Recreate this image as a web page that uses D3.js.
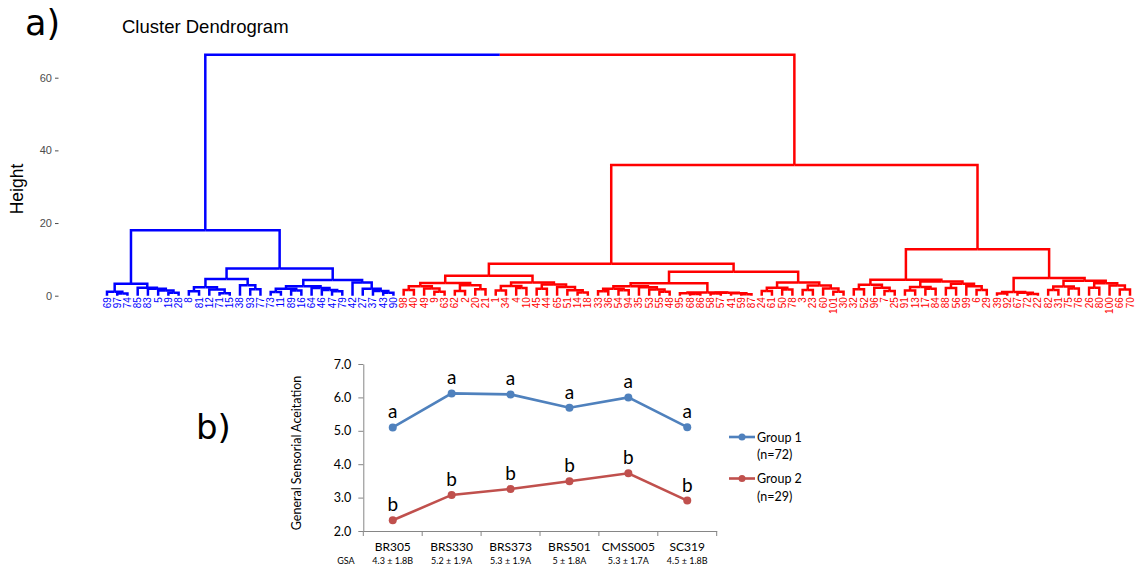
<!DOCTYPE html>
<html>
<head>
<meta charset="utf-8">
<script src="https://cdn.jsdelivr.net/npm/d3@7.9.0/dist/d3.min.js"></script>
<style>
  body { margin: 0; background: #fff; }
</style>
</head>
<body>
<svg id="chart" width="1137" height="570"></svg>
<script>
// ---------- a) dendrogram: each node is [height, left, right], leaves are sample ids
const blueTree = [18,
  [3.3, [1.1, 69, [0.6, 97, 74]], [2.2, 85, [1.9, 83, [1.4, 5, [0.8, 19, 28]]]]],
  [7.5,
    [4.6, [2.3, [1.2, 8, 81], [1.7, 12, [0.7, 71, 15]]], [2.9, 38, [1.8, 93, 77]]],
    [4.3, [2.6, [1.9, [1.0, 73, 11], [1.4, 89, 16]], [2.1, 64, [1.6, 46, [1.2, 47, 79]]]],
          [3.6, 42, [1.9, 27, [1.3, 37, [0.8, 43, 90]]]]]]];

const redTree = [36,
  [8.8,
    [5.5, [3.5, [2.6, [1.6, 98, 40], [2.0, 49, [1.1, 9, 63]]], [2.9, [1.3, 62, 2], [1.8, 20, 21]]],
          [3.6, [2.7, [1.4, 1, 34], [2.1, 4, 10]], [3.1, [1.9, 45, 44], [2.4, 65, [1.5, 51, [0.9, 14, 18]]]]]],
    [6.6,
      [3.4, [2.6, [1.9, [1.2, 33, 36], [1.5, 54, 94]], [2.3, 35, [1.7, 53, [1.1, 55, 48]]]],
            [0.9, [0.7, 95, [0.5, 68, 86]], [0.8, [0.6, 58, 57], [0.7, 41, [0.4, 59, 87]]]]],
      [3.6, [2.2, [1.3, 24, 61], [1.7, 50, 78]], [2.8, [1.6, 3, 23], [2.0, 60, [1.1, 101, 30]]]]]],
  [12.8,
    [4.4, [3.0, [1.8, 32, 52], [2.2, 96, [1.3, 7, 25]]],
          [3.9, [2.4, [1.4, 91, 13], [1.9, 17, 84]], [3.3, [2.1, 88, 56], [2.6, 99, [1.6, 6, 29]]]]],
    [4.9, [1.0, [0.6, 39, 92], [0.8, 67, [0.5, 72, 22]]],
          [4.1, [2.5, [1.6, 82, 31], [2.0, 75, 76]], [3.4, [2.2, 26, 80], [2.8, 100, [1.7, 66, 70]]]]]]];

const rootHeight = 66.3;
const clusterColors = ['#0000FF', '#FF0000'];
const heightTicks = [0, 20, 40, 60];

// ---------- b) acceptance by cultivar
const cultivars = ['BR305', 'BRS330', 'BRS373', 'BRS501', 'CMSS005', 'SC319'];
const gsaLabels = ['4.3 ± 1.8B', '5.2 ± 1.9A', '5.3 ± 1.9A', '5 ± 1.8A', '5.3 ± 1.7A', '4.5 ± 1.8B'];
const group1 = [5.10, 6.12, 6.09, 5.69, 6.00, 5.11];
const group2 = [2.32, 3.08, 3.26, 3.49, 3.73, 2.91];
const group1Letters = ['a', 'a', 'a', 'a', 'a', 'a'];
const group2Letters = ['b', 'b', 'b', 'b', 'b', 'b'];
const groupNames = ['Group 1', 'Group 2'];
const groupSizes = ['(n=72)', '(n=29)'];
const groupColors = ['#4F81BD', '#C0504D'];
const acceptTicks = [2, 3, 4, 5, 6, 7];

const svg = d3.select('#chart');
const arial = '"Liberation Sans", Arial, sans-serif';
const calib = 'Lato, "Open Sans", sans-serif';

// ================= panel a =================
const root = d3.hierarchy([rootHeight, blueTree, redTree], d => Array.isArray(d) ? d.slice(1) : null);
const leaves = root.leaves();

const xLeaf = d3.scalePoint().domain(leaves.map(d => String(d.data))).range([107, 1130]);
const yH = d3.scaleLinear().domain([0, 60]).range([295.7, 77.7]);

root.eachAfter(n => {
  n.h = n.children ? n.data[0] : 0;
  n.x = n.children ? (n.children[0].x + n.children[1].x) / 2 : xLeaf(String(n.data));
});
root.children.forEach((c, i) => c.each(n => { n.color = clusterColors[i]; }));

svg.append('text')
  .attr('x', 25).attr('y', 35)
  .style('font', '35px "DejaVu Sans", sans-serif')
  .text('a)');

svg.append('text')
  .attr('x', 122).attr('y', 33)
  .style('font', '18.5px ' + arial)
  .text('Cluster Dendrogram');

svg.append('text')
  .attr('transform', 'translate(23,189) rotate(-90)')
  .attr('text-anchor', 'middle')
  .style('font', '17.5px ' + arial)
  .text('Height');

const axA = svg.append('g')
  .attr('transform', 'translate(58.5,0)')
  .call(d3.axisLeft(yH).tickValues(heightTicks).tickSize(3.5).tickPadding(3));
axA.select('.domain').remove();
axA.selectAll('.tick line').attr('stroke', '#4d4d4d');
axA.selectAll('.tick text').attr('fill', '#4d4d4d').style('font', '11px ' + arial);

const gDend = svg.append('g');
gDend.selectAll('path')
  .data(root.descendants().filter(n => n.parent))
  .join('path')
  .attr('d', n => `M${n.parent.x},${yH(n.parent.h)}H${n.x}V${yH(n.h)}`)
  .attr('fill', 'none')
  .attr('stroke', n => n.color)
  .attr('stroke-width', 2.5)
  .attr('stroke-linejoin', 'miter');

gDend.selectAll('text')
  .data(leaves)
  .join('text')
  .attr('transform', n => `translate(${n.x},${yH(0) + 1.5}) rotate(-90)`)
  .attr('text-anchor', 'end')
  .attr('dy', '0.35em')
  .attr('fill', n => n.color)
  .style('font', '10px ' + arial)
  .text(n => n.data);

// ================= panel b =================
svg.append('text')
  .attr('x', 196).attr('y', 439)
  .style('font', '34px "DejaVu Sans", sans-serif')
  .text('b)');

const xB = d3.scaleBand().domain(cultivars).range([363.3, 716.7]);
const yB = d3.scaleLinear().domain([2, 7]).range([531, 364]);
const axisColor = '#868686';

const axY = svg.append('g')
  .attr('transform', 'translate(363.3,0)')
  .call(d3.axisLeft(yB).tickValues(acceptTicks).tickFormat(d3.format('.1f')).tickSize(5).tickSizeOuter(0).tickPadding(7));
axY.select('.domain').attr('stroke', axisColor);
axY.selectAll('.tick line').attr('stroke', axisColor);
axY.selectAll('.tick text').attr('fill', '#000').style('font', '12.5px ' + calib);

const axX = svg.append('g')
  .attr('transform', 'translate(0,531)')
  .call(d3.axisBottom(xB).tickSize(0).tickSizeOuter(0).tickPadding(11));
axX.select('.domain').attr('stroke', axisColor);
axX.selectAll('.tick text').attr('fill', '#000').style('font', '12px ' + calib);

// tick marks at category boundaries
svg.append('g').selectAll('line')
  .data(cultivars.map(c => xB(c) + xB.bandwidth()).concat([xB.range()[0]]))
  .join('line')
  .attr('x1', d => d).attr('x2', d => d)
  .attr('y1', 531).attr('y2', 536)
  .attr('stroke', axisColor);

svg.append('g').selectAll('text')
  .data(cultivars)
  .join('text')
  .attr('x', c => xB(c) + xB.bandwidth() / 2)
  .attr('y', 564)
  .attr('text-anchor', 'middle')
  .style('font', '9px ' + calib)
  .text((c, i) => gsaLabels[i]);

svg.append('text')
  .attr('x', 346).attr('y', 564)
  .attr('text-anchor', 'middle')
  .style('font', '9px ' + calib)
  .text('GSA');

svg.append('text')
  .attr('transform', 'translate(301,453) rotate(-90)')
  .attr('text-anchor', 'middle')
  .style('font', '12.5px ' + calib)
  .text('General Sensorial Aceitation');

const line = d3.line()
  .x((d, i) => xB(cultivars[i]) + xB.bandwidth() / 2)
  .y(d => yB(d));

[[group1, group1Letters], [group2, group2Letters]].forEach(([vals, letters], gi) => {
  const g = svg.append('g');
  g.append('path')
    .datum(vals)
    .attr('d', line)
    .attr('fill', 'none')
    .attr('stroke', groupColors[gi])
    .attr('stroke-width', 2.6);
  g.selectAll('circle')
    .data(vals)
    .join('circle')
    .attr('cx', (d, i) => xB(cultivars[i]) + xB.bandwidth() / 2)
    .attr('cy', d => yB(d))
    .attr('r', 4)
    .attr('fill', groupColors[gi]);
  g.selectAll('text')
    .data(vals)
    .join('text')
    .attr('x', (d, i) => xB(cultivars[i]) + xB.bandwidth() / 2)
    .attr('y', d => yB(d) - 9)
    .attr('text-anchor', 'middle')
    .style('font', '19px ' + calib)
    .text((d, i) => letters[i]);
});

// legend
const legend = svg.append('g').attr('transform', 'translate(729,437)');
groupNames.forEach((name, i) => {
  const row = legend.append('g').attr('transform', `translate(0,${i * 41.5})`);
  row.append('line').attr('x1', 0).attr('x2', 26).attr('y1', 0).attr('y2', 0)
    .attr('stroke', groupColors[i]).attr('stroke-width', 2.6);
  row.append('circle').attr('cx', 13).attr('cy', 0).attr('r', 3.5).attr('fill', groupColors[i]);
  row.append('text').attr('x', 28).attr('y', 4.5).style('font', '12.5px ' + calib).text(name);
  row.append('text').attr('x', 28).attr('y', 22).style('font', '12.5px ' + calib).text(groupSizes[i]);
});
</script>
</body>
</html>
